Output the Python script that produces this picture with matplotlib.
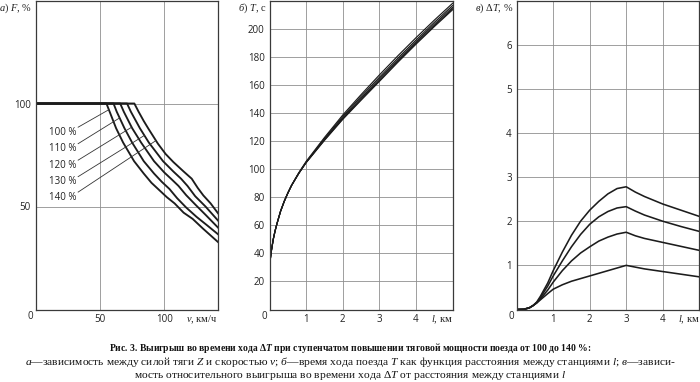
import numpy as np
import matplotlib
matplotlib.use('Agg')
import matplotlib.pyplot as plt

plt.rcParams['font.family'] = ['Open Sans', 'DejaVu Sans']
plt.rcParams['mathtext.fontset'] = 'custom'
plt.rcParams['mathtext.rm'] = 'Liberation Serif'
plt.rcParams['mathtext.it'] = 'Liberation Serif:italic'
plt.rcParams['mathtext.bf'] = 'Liberation Serif:bold'
plt.rcParams['mathtext.bfit'] = 'Liberation Serif:italic:bold'

# --- а) traction force F (%) vs speed v (km/h), power 100..140 %
power_labels = ['100 %', '110 %', '120 %', '130 %', '140 %']
v_100 = [0, 55, 57.5, 62.5, 68, 76.5, 84, 90, 96, 102, 108, 115, 122, 130, 142]
F_100 = [100, 100, 96, 88, 81, 72, 66, 61.5, 58, 54.5, 51.5, 47, 44, 39.3, 32.6]
v_110 = [0, 60.5, 63, 69, 75, 84, 92, 98, 104, 110, 117, 125, 133, 142]
F_110 = [100, 100, 96, 88, 81, 72, 66, 62, 58.5, 54, 49.5, 45, 41, 36.4]
v_120 = [0, 65.7, 68.5, 75, 82, 92, 100, 106, 111, 117, 124, 132, 142]
F_120 = [100, 100, 96, 88, 81, 72, 66.5, 63, 60, 55.5, 51, 46, 39.6]
v_130 = [0, 71, 74, 81, 88, 99, 107, 113, 118, 124, 132, 142]
F_130 = [100, 100, 96, 88, 81, 72, 67, 63.5, 60, 55, 50, 43]
v_140 = [0, 76.7, 80, 84, 87.6, 95, 101, 107, 115, 121.3, 126, 130.3, 136, 142]
F_140 = [100, 100, 96, 91.5, 87.8, 80.5, 75.5, 71.6, 67, 63.5, 59, 55.4, 51.5, 46.5]
curves_a = [(v_100, F_100), (v_110, F_110), (v_120, F_120),
            (v_130, F_130), (v_140, F_140)]

# --- б) running time T (s) vs distance l (km)
l_b = [0, 0.02, 0.05, 0.1, 0.15, 0.2, 0.3, 0.4, 0.5, 0.6, 0.7, 0.8, 0.9, 1.0,
       1.25, 1.5, 1.75, 2.0, 2.5, 3.0, 3.5, 4.0, 4.5, 5.0]
T_100 = [30, 36, 42, 50, 56, 61, 70, 77, 83, 88.5, 93, 97.5, 101.5, 105.5,
         114, 122.5, 130.5, 138.5, 153, 167, 180.5, 193.5, 206, 218]
T_110 = [30, 36, 42, 50, 56, 61, 70, 77, 83, 88.35, 92.8, 97.2, 101.1, 105.0,
         113.4, 121.7, 129.6, 137.4, 151.7, 165.3, 178.8, 191.8, 204.4, 216.4]
T_120 = [30, 36, 42, 50, 56, 61, 70, 77, 83, 88.3, 92.7, 97.1, 101.0, 104.8,
         113.0, 121.2, 128.8, 136.5, 150.5, 164.1, 177.6, 190.6, 203.1, 215.1]
T_130 = [30, 36, 42, 50, 56, 61, 70, 77, 83, 88.3, 92.7, 97.0, 100.9, 104.7,
         112.7, 120.8, 128.3, 135.8, 149.6, 163.1, 176.6, 189.6, 202.1, 214.1]
T_140 = [30, 36, 42, 50, 56, 61, 70, 77, 83, 88.3, 92.7, 97.0, 100.8, 104.6,
         112.5, 120.4, 127.9, 135.4, 149.0, 162.4, 175.9, 188.9, 201.4, 213.4]

# --- в) relative time gain dT (%) vs distance l (km)
l_c = [0, 0.2, 0.35, 0.45, 0.55, 0.65, 0.75, 0.85, 1.0, 1.25, 1.5, 1.75,
       2.0, 2.25, 2.5, 2.75, 3.0, 3.25, 3.5, 4.0, 4.5, 5.0]
dT_140 = [0, 0.005, 0.04, 0.09, 0.17, 0.3, 0.45, 0.6, 0.88, 1.3, 1.68, 2.0,
          2.25, 2.45, 2.62, 2.74, 2.78, 2.66, 2.56, 2.39, 2.25, 2.11]
dT_130 = [0, 0.005, 0.04, 0.09, 0.16, 0.27, 0.4, 0.53, 0.76, 1.1, 1.42, 1.7,
          1.93, 2.1, 2.22, 2.3, 2.33, 2.23, 2.14, 2.0, 1.88, 1.77]
dT_120 = [0, 0.005, 0.04, 0.09, 0.15, 0.24, 0.34, 0.44, 0.62, 0.88, 1.1, 1.28,
          1.42, 1.55, 1.64, 1.71, 1.75, 1.67, 1.61, 1.52, 1.43, 1.34]
dT_110 = [0, 0.005, 0.04, 0.09, 0.15, 0.22, 0.29, 0.36, 0.46, 0.56, 0.64, 0.7,
          0.76, 0.82, 0.88, 0.94, 1.0, 0.96, 0.92, 0.86, 0.8, 0.74]

caption = [
    'Рис. 3. Выигрыш во времени хода Δ$\\mathbfit{T}$ при ступенчатом '
    'повышении тяговой мощности поезда от 100 до 140 %:',
    '$\\mathit{а}$—зависимость между силой тяги $\\mathit{Z}$ и скоростью '
    '$\\mathit{v}$; $\\mathit{б}$—время хода поезда $\\mathit{T}$ как функция '
    'расстояния между станциями $\\mathit{l}$; $\\mathit{в}$—зависи-',
    'мость относительного выигрыша во времени хода Δ$\\mathit{T}$ от '
    'расстояния между станциями $\\mathit{l}$',
]

line_c = '#1c1c1c'
grid_c = '#8f8f8f'
spine_c = '#3a3a3a'
W, H = 700, 382

fig = plt.figure(figsize=(7, 3.82), dpi=100)
bot = (H - 309.5) / H
hgt = 309.0 / H
ax_a = fig.add_axes([35.7 / W, bot, 182 / W, hgt])
ax_b = fig.add_axes([269.6 / W, bot, 183 / W, hgt])
ax_c = fig.add_axes([516.7 / W, bot, 182.5 / W, hgt])


def style(ax, xt, yt, ylab, xlab):
    ax.set_xticks(xt)
    ax.set_yticks(yt)
    ax.grid(True, color=grid_c, lw=0.6)
    ax.set_axisbelow(True)
    ax.tick_params(length=0, labelsize=7, pad=3.5, labelcolor='#222222')
    for s in ax.spines.values():
        s.set_color(spine_c)
        s.set_linewidth(0.9)
    ax.annotate('0', (0, 0), xycoords='axes fraction', xytext=(-4, -5),
                textcoords='offset points', ha='center', va='center',
                fontsize=7, color='#222222')
    ax.annotate(ylab, (0, 1), xycoords='axes fraction', xytext=(-2.5, -5.5),
                textcoords='offset points', ha='right', va='center',
                fontsize=7.5, family='Liberation Serif', color='#222222')
    ax.annotate(xlab, (1, 0), xycoords='axes fraction', xytext=(0, -7.5),
                textcoords='offset points', ha='right', va='center',
                fontsize=7.5, family='Liberation Serif', color='#222222')


# а)
for v, F in curves_a:
    ax_a.plot(v, F, color=line_c, lw=1.35, solid_joinstyle='round')
ax_a.set_xlim(0, 141.5)
ax_a.set_ylim(0, 150)
style(ax_a, [50, 100], [50, 100], '$\\mathit{а)}$ $\\mathit{F}$, %',
      '$\\mathit{v}$, км/ч')
label_F = [86, 78, 70, 62, 54.5]
leader_F = [97, 93, 88.5, 84.5, 82]
for (v, F), lab, fy, fe in zip(curves_a, power_labels, label_F, leader_F):
    ve = np.interp(fe, F[::-1][:-1], v[::-1][:-1])
    ax_a.text(32, fy, lab, ha='right', va='center', fontsize=7, color='#222222')
    ax_a.plot([33, ve], [fy + 2.5, fe], color='#333333', lw=0.6)

# б)
for T in [T_100, T_110, T_120, T_130, T_140]:
    ax_b.plot(l_b, T, color=line_c, lw=0.85, solid_joinstyle='round')
ax_b.set_xlim(0, 5)
ax_b.set_ylim(0, 220)
style(ax_b, [1, 2, 3, 4], range(20, 201, 20), '$\\mathit{б)}$ $\\mathit{T}$, с',
      '$\\mathit{l}$, км')

# в)
for dT in [dT_110, dT_120, dT_130, dT_140]:
    ax_c.plot(l_c, dT, color=line_c, lw=1.15, solid_joinstyle='round')
ax_c.set_xlim(0, 5)
ax_c.set_ylim(0, 7)
style(ax_c, [1, 2, 3, 4], [1, 2, 3, 4, 5, 6], '$\\mathit{в)}$ Δ$\\mathit{T}$, %',
      '$\\mathit{l}$, км')

# caption
for i, txt in enumerate(caption):
    fig.text(0.5, 1 - (348 + 14 * i) / H, txt, ha='center', va='center',
             fontsize=6.9 if i == 0 else 8.25, family='Liberation Serif',
             color='#111111', fontweight='bold' if i == 0 else 'normal')

fig.savefig('out.png', dpi=100)
